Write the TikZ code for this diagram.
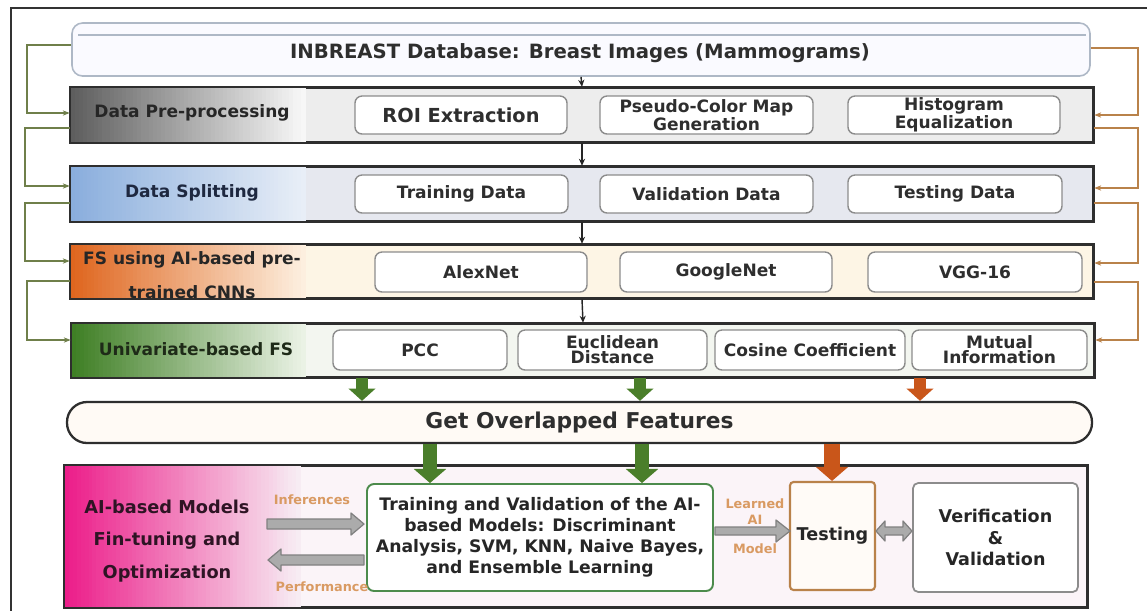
\documentclass[tikz,border=0pt]{standalone}
\usepackage{fontspec}
\setmainfont{DejaVu Sans}
\usetikzlibrary{arrows.meta,fit}
\definecolor{fbgreen}{HTML}{6F7F4A}
\definecolor{fborange}{HTML}{B9824A}
\definecolor{blkgreen}{HTML}{4A7E2A}
\definecolor{blkorange}{HTML}{C9561A}
\definecolor{lblorange}{HTML}{D99A62}
\definecolor{dbline}{HTML}{AEB8C6}
\definecolor{preL}{HTML}{5E5E5E}\definecolor{preR}{HTML}{F7F7F7}\definecolor{preM}{HTML}{EDEDED}
\definecolor{splL}{HTML}{8AAEDD}\definecolor{splR}{HTML}{E8EEF7}\definecolor{splM}{HTML}{E6E8EF}
\definecolor{fsL}{HTML}{DF661F}\definecolor{fsR}{HTML}{FDEFDF}\definecolor{fsM}{HTML}{FDF5E5}
\definecolor{uniL}{HTML}{3F7F25}\definecolor{uniR}{HTML}{EAF2E5}\definecolor{uniM}{HTML}{F3F6F0}
\definecolor{botL}{HTML}{EC1E8A}\definecolor{botR}{HTML}{F7ECF3}\definecolor{botM}{HTML}{FBF4F8}
\definecolor{optText}{HTML}{2E1424}
\definecolor{splText}{HTML}{1E2840}
\definecolor{uniText}{HTML}{1E2A18}
\newcommand\gradfill[6]{%
  \foreach \i in {0,...,59}{%
    \pgfmathtruncatemacro\pc{100-round(100*\i/59)}%
    \pgfmathsetmacro\xa{#1+(#3-#1)*\i/60}%
    \pgfmathsetmacro\xb{#1+(#3-#1)*(\i+1)/60+0.6}%
    \fill[#5!\pc!#6] (\xa,#2) rectangle (\xb,#4);%
  }}
\begin{document}
\begin{tikzpicture}[x=0.02cm,y=-0.02cm,
  pxbox/.style n args={4}{minimum width={(#3-#1)*0.02cm}, minimum height={(#4-#2)*0.02cm},
     at={({(#1+#3)/2},{(#2+#4)/2})}},
  band/.style={draw=black!82, line width=1.4pt, inner sep=0pt, fill=#1},
  bandline/.style={draw=black!82, line width=1.4pt},
  bandlabel/.style={font=\bfseries\fontsize{9.7}{11}\selectfont, text=black!85, align=center, inner sep=0pt},
  ibox/.style={draw=black!45, line width=0.8pt, rounded corners=4pt, fill=white, inner sep=0pt,
    align=center, text=black!82, font=\bfseries\fontsize{9.7}{8.6}\selectfont},
  fbL/.style={draw=fbgreen, line width=0.8pt, -{Stealth[length=4pt,width=3pt]}},
  fbR/.style={draw=fborange, line width=0.8pt, -{Stealth[length=4pt,width=3pt]}},
  vconn/.style={draw=black!85, line width=0.8pt, -{Stealth[length=4pt,width=3.5pt]}},
  gblk/.style={draw=blkgreen, line width=7.2pt, -{Triangle[width=15pt,length=7pt]}},
  oblk/.style={draw=blkorange, line width=7.2pt, -{Triangle[width=15pt,length=7pt]}},
  gblkb/.style={draw=blkgreen, line width=8.5pt, -{Triangle[width=18pt,length=8pt]}},
  oblkb/.style={draw=blkorange, line width=9pt, -{Triangle[width=18pt,length=8pt]}},
  grayarr/.style={draw=black!50, fill=black!33, line width=0.7pt, line join=round},
  smalllbl/.style={font=\bfseries\fontsize{7.3}{8}\selectfont, text=lblorange, inner sep=0pt, align=center}
]
\useasboundingbox (0,0) rectangle (1147,610);
\fill[white] (0,0) rectangle (1147,610);
% outer frame
\draw[line width=1.3pt, black!80] (11,615) -- (11,8) -- (1150,8);

% database
\node[draw=dbline, fill=blue!2!white, line width=0.9pt, rounded corners=6pt, inner sep=0pt,
      fit={(72,23) (1090,76)}] (db) {};
\draw[dbline, line width=0.7pt] (78,35) -- (1086,35);
\node[font=\bfseries\fontsize{11.2}{13}\selectfont, text=black!82] (dbt) at (580,53) {INBREAST Database: Breast Images (Mammograms)};

% bands
\node[band=preM, fit={(71,88) (1093,142)}] (pre) {};
\gradfill{71}{88}{305}{142}{preL}{preR}
\draw[bandline] (pre.north west) rectangle (pre.south east);
\node[band=splM, fit={(71,167) (1093,221)}] (split) {};
\gradfill{71}{167}{305}{221}{splL}{splR}
\draw[bandline] (split.north west) rectangle (split.south east);
\node[band=fsM, fit={(71,245) (1093,298)}] (fs) {};
\gradfill{71}{245}{305}{298}{fsL}{fsR}
\draw[bandline] (fs.north west) rectangle (fs.south east);
\node[band=uniM, fit={(72,324) (1094,377)}] (uni) {};
\gradfill{72}{324}{305}{377}{uniL}{uniR}
\draw[bandline] (uni.north west) rectangle (uni.south east);

\node[bandlabel] (prel) at (192,113) {Data Pre-processing};
\node[bandlabel, text=splText] (splitl) at (192,193) {Data Splitting};
\node[bandlabel, font=\bfseries\fontsize{9.7}{19.5}\selectfont] (fsl) at (192,275) {FS using AI-based pre-\\trained CNNs};
\node[bandlabel, text=uniText] (unil) at (196,349) {Univariate-based FS};

\node[ibox, pxbox={355}{96}{567}{134}, font=\bfseries\fontsize{11}{12}\selectfont] (roi) {ROI Extraction};
\node[ibox, pxbox={600}{96}{813}{134}] (pcm) {Pseudo-Color Map\\Generation};
\node[ibox, pxbox={848}{96}{1060}{134}] (he) {Histogram\\Equalization};

\node[ibox, pxbox={355}{175}{568}{213}] (trd) {Training Data};
\node[ibox, pxbox={600}{175}{813}{213}] (vad) {Validation Data};
\node[ibox, pxbox={848}{175}{1062}{213}] (ted) {Testing Data};

\node[ibox, pxbox={375}{252}{587}{292}] (alex) {AlexNet};
\node[ibox, pxbox={620}{252}{832}{292}] (goog) {GoogleNet};
\node[ibox, pxbox={868}{252}{1082}{292}] (vgg) {VGG-16};

\node[ibox, pxbox={333}{330}{507}{370}] (pcc) {PCC};
\node[ibox, pxbox={518}{330}{707}{370}] (euc) {Euclidean\\Distance};
\node[ibox, pxbox={715}{330}{905}{370}] (cos) {Cosine Coefficient};
\node[ibox, pxbox={912}{330}{1087}{370}] (mut) {Mutual\\Information};

% vertical connectors
\draw[vconn] (db.south) -- (pre.north);
\draw[vconn] (pre.south) -- (split.north);
\draw[vconn] (split.south) -- (fs.north);
\draw[vconn] (fs.south) -- (uni.north);

% feedback brackets left
\draw[fbL] (db.west |- 0,45) -- (27,45) |- (pre.west |- 0,113);
\draw[fbL] (pre.west |- 0,128) -- (25,128) |- (split.west |- 0,186);
\draw[fbL] (split.west |- 0,203) -- (25,203) |- (fs.west |- 0,261);
\draw[fbL] (fs.west |- 0,281) -- (27,281) |- (uni.west |- 0,340);
% feedback brackets right
\draw[fbR] (db.east |- 0,48) -- (1138,48) |- (pre.east |- 0,115);
\draw[fbR] (pre.east |- 0,128) -- (1138,128) |- (split.east |- 0,188);
\draw[fbR] (split.east |- 0,203) -- (1138,203) |- (fs.east |- 0,263);
\draw[fbR] (fs.east |- 0,282) -- (1138,282) |- (uni.east |- 0,340);

% overlapped features
\node[draw=black!82, line width=1.3pt, fill=red!6!orange!4!white, rounded corners=11.4pt, inner sep=0pt,
      pxbox={67}{402}{1092}{443}, font=\bfseries\fontsize{12.4}{14}\selectfont, text=black!82] (ov) {Get Overlapped Features};

\draw[gblk] (uni.south -| 362,0) -- (ov.north -| 362,0);
\draw[gblk] (uni.south -| 640,0) -- (ov.north -| 640,0);
\draw[oblk] (uni.south -| 920,0) -- (ov.north -| 920,0);

% bottom box
\node[band=botM, fit={(65,466) (1087,607)}] (bot) {};
\gradfill{65}{466}{300}{607}{botL}{botR}
\draw[bandline] (bot.north west) rectangle (bot.south east);
\node[font=\bfseries\fontsize{10.1}{18.5}\selectfont, text=optText, align=center] (opt) at (167,541)
  {AI-based Models\\Fin-tuning and\\Optimization};

\node[draw=green!35!black!70, line width=1.1pt, fill=white, rounded corners=4pt, inner sep=0pt, align=center,
      font=\bfseries\fontsize{9.8}{12}\selectfont, text=black!85, pxbox={367}{484}{713}{591}] (train)
  {Training and Validation of the AI-\\based Models: Discriminant\\Analysis, SVM, KNN, Naive Bayes,\\and Ensemble Learning};
\node[draw=fborange, line width=1.2pt, fill=orange!3!white, rounded corners=2pt, inner sep=0pt,
      font=\bfseries\fontsize{10}{11}\selectfont, text=black!85, pxbox={790}{482}{875}{590}] (test) {Testing};
\node[draw=black!45, line width=1pt, fill=white, rounded corners=3pt, inner sep=0pt, align=center,
      font=\bfseries\fontsize{10}{12.3}\selectfont, text=black!85, pxbox={913}{483}{1078}{592}] (ver)
  {Verification\\\&\\Validation};

\draw[gblkb] (ov.south -| 430,0) -- (train.north -| 430,0);
\draw[gblkb] (ov.south -| 642,0) -- (train.north -| 642,0);
\draw[oblkb] (ov.south -| 832,0) -- (test.north -| 832,0);

% gray block arrows
\draw[grayarr] (267,519) -- (351,519) -- (351,513) -- (364,524) -- (351,535) -- (351,529) -- (267,529) -- cycle;
\draw[grayarr] (364,555) -- (281,555) -- (281,549) -- (268,560) -- (281,571) -- (281,565) -- (364,565) -- cycle;
\draw[grayarr] (715,527) -- (776,527) -- (776,520) -- (790,531) -- (776,542) -- (776,535) -- (715,535) -- cycle;
\draw[grayarr] (876,531) -- (885,521) -- (885,527) -- (903,527) -- (903,521) -- (912,531) -- (903,541) -- (903,535) -- (885,535) -- (885,541) -- cycle;

\node[smalllbl] (inf) at (312,500) {Inferences};
\node[smalllbl] (perf) at (322,587) {Performance};
\node[smalllbl] (lrn1) at (755,504) {Learned};
\node[smalllbl] (lrn2) at (755,520) {AI};
\node[smalllbl] (lrn3) at (755,549) {Model};
\end{tikzpicture}
\end{document}
